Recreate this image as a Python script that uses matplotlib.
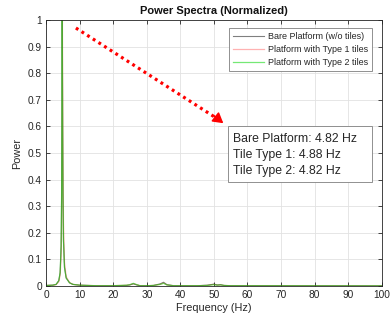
import matplotlib
matplotlib.use("Agg")
import matplotlib.pyplot as plt
from matplotlib.patches import Rectangle

plt.rcParams['font.family'] = ['Liberation Sans', 'DejaVu Sans']

# Normalized power spectra sampled at hand-picked frequencies (Hz)
freq = [0, 2, 3, 3.8, 4.2, 4.5, 4.65, 4.75, 4.82, 4.88, 4.95, 5.05, 5.2, 5.5, 6, 7, 8,
        10, 15, 20, 24, 25, 26, 27, 28, 30, 32, 34, 35, 36, 38, 45, 48, 50, 51, 52,
        53, 55, 60, 100]

power_bare = [0.002, 0.003, 0.006, 0.02, 0.05, 0.15, 0.35, 0.75, 1.0, 0.85, 0.6, 0.35,
              0.17, 0.07, 0.03, 0.012, 0.006, 0.003, 0.001, 0.001, 0.002, 0.004, 0.008,
              0.004, 0.001, 0.001, 0.002, 0.008, 0.014, 0.005, 0.001, 0.001, 0.003,
              0.007, 0.004, 0.005, 0.002, 0.001, 0.001, 0.0005]

power_type1 = [0.002, 0.003, 0.005, 0.016, 0.04, 0.11, 0.22, 0.45, 0.8, 1.0, 0.8, 0.5,
               0.24, 0.09, 0.035, 0.013, 0.006, 0.003, 0.001, 0.001, 0.003, 0.005, 0.009,
               0.005, 0.001, 0.001, 0.002, 0.006, 0.011, 0.004, 0.001, 0.001, 0.002,
               0.006, 0.003, 0.004, 0.002, 0.001, 0.001, 0.0005]

power_type2 = [0.002, 0.003, 0.006, 0.02, 0.05, 0.15, 0.35, 0.75, 1.0, 0.85, 0.6, 0.35,
               0.17, 0.07, 0.03, 0.012, 0.006, 0.003, 0.001, 0.001, 0.003, 0.005, 0.010,
               0.005, 0.001, 0.001, 0.002, 0.006, 0.010, 0.004, 0.001, 0.001, 0.002,
               0.005, 0.003, 0.004, 0.002, 0.001, 0.001, 0.0005]

series_labels = ['Bare Platform (w/o tiles)', 'Platform with Type 1 tiles',
                 'Platform with Type 2 tiles']
peak_lines = ['Bare Platform: 4.82 Hz', 'Tile Type 1: 4.88 Hz', 'Tile Type 2: 4.82 Hz']

x_ticks = list(range(0, 101, 10))
y_ticks = [0, 0.1, 0.2, 0.3, 0.4, 0.5, 0.6, 0.7, 0.8, 0.9, 1]

fig = plt.figure(figsize=(3.9, 3.23), dpi=100)
ax = fig.add_axes([0.118, 0.1146, 0.861, 0.8234])

txt = '#262626'
ax.plot(freq, power_bare, color='k', lw=0.8, alpha=0.5, label=series_labels[0])
ax.plot(freq, power_type1, color='red', lw=0.9, alpha=0.3, label=series_labels[1])
ax.plot(freq, power_type2, color=(0.1, 0.85, 0.1), lw=0.9, alpha=0.6, label=series_labels[2])

ax.set_xlim(0, 100)
ax.set_ylim(0, 1)
ax.set_xticks(x_ticks)
ax.set_yticks(y_ticks)
ax.set_yticklabels(['0', '0.1', '0.2', '0.3', '0.4', '0.5', '0.6', '0.7', '0.8', '0.9', '1'])
ax.grid(True, color='#e2e2e2', lw=0.6)
ax.set_axisbelow(True)
ax.tick_params(direction='in', length=3, width=0.6, colors=txt, labelsize=7.3,
               top=True, right=True, pad=3)
for s in ax.spines.values():
    s.set_color('#262626')
    s.set_linewidth(0.6)

ax.set_xlabel('Frequency (Hz)', fontsize=7.8, color=txt, labelpad=2)
ax.set_ylabel('Power', fontsize=7.8, color=txt, labelpad=4)
ax.set_title('Power Spectra (Normalized)', fontsize=8, fontweight='bold', color='#111111', pad=4)

leg = ax.legend(loc='upper right', fontsize=6.5, fancybox=False, framealpha=1,
                edgecolor='#7f7f7f', handlelength=3.4, handletextpad=0.4,
                borderaxespad=0.65, labelspacing=0.45, borderpad=0.45,
                bbox_to_anchor=(0.988, 0.992))
leg.get_frame().set_linewidth(0.6)
for t in leg.get_texts():
    t.set_color(txt)

# dotted red arrow pointing to the peak summary
ax.plot([8.9, 51.5], [0.97, 0.625], color='red', lw=2.3, linestyle=(0, (0.9, 1.2)),
        dash_capstyle='butt')
ax.annotate('', xy=(52.8, 0.612), xytext=(50.0, 0.64),
            arrowprops=dict(arrowstyle='-|>,head_length=0.6,head_width=0.35',
                            color='red', lw=1.2, shrinkA=0, shrinkB=0))

# peak summary box
ax.add_patch(Rectangle((54.2, 0.392), 42.8, 0.21, fc='white', ec='#7f7f7f', lw=0.6,
                       zorder=5))
ax.text(55.8, 0.574, '\n'.join(peak_lines), fontsize=8.8, color=txt, va='top', ha='left',
        linespacing=1.42, zorder=6)

fig.savefig('out.png', dpi=100)
